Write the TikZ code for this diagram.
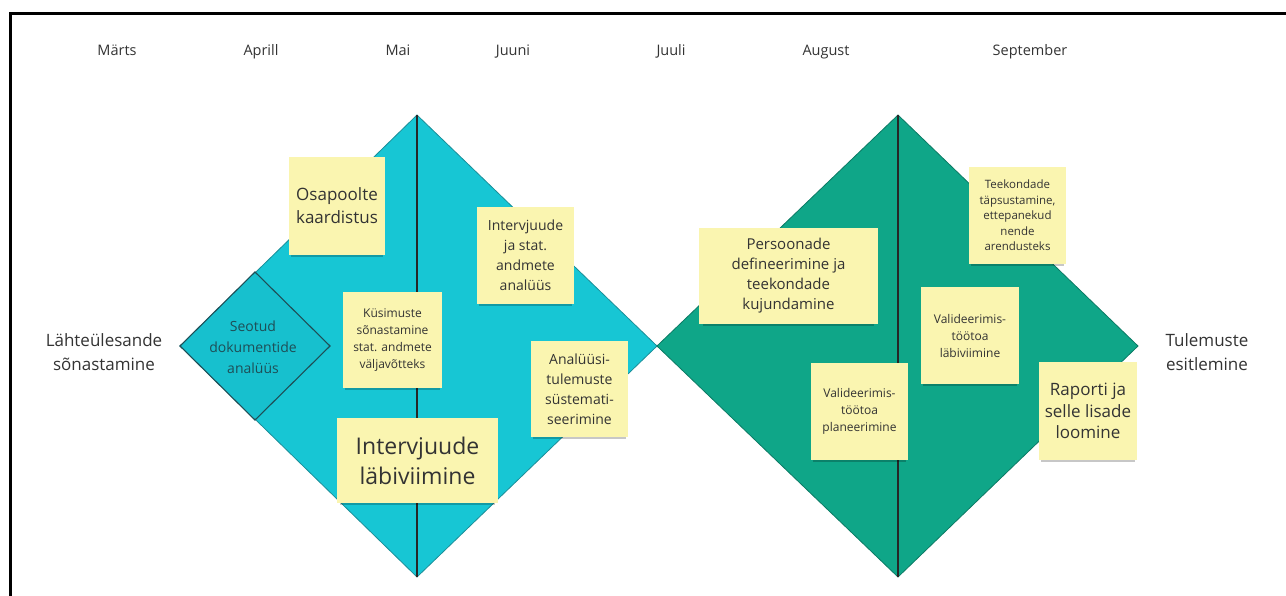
\documentclass[tikz,border=0pt]{standalone}
\usepackage{fontspec}
\setmainfont{Open Sans}
\usetikzlibrary{shadows}

\definecolor{diamondA}{HTML}{17C6D4}
\definecolor{diamondAsub}{HTML}{17C0CE}
\definecolor{edgeA}{HTML}{1B8E98}
\definecolor{diamondB}{HTML}{0FA688}
\definecolor{edgeB}{HTML}{0B7A64}
\definecolor{notefill}{HTML}{FAF5B0}
\definecolor{inktext}{HTML}{333333}
\definecolor{subtext}{HTML}{1E4E56}

\tikzset{
  month/.style={text=inktext, font=\fontsize{14.5}{17}\selectfont, inner sep=0pt, anchor=base},
  sidelabel/.style={text=inktext, align=center, font=\fontsize{17}{24}\selectfont, inner sep=0pt},
  divider/.style={draw=black!85, line width=1.6pt},
  note/.style={fill=notefill, align=center, text=inktext, inner sep=2pt,
    drop shadow={shadow xshift=0pt, shadow yshift=-4pt, shadow scale=0.96, opacity=0.22, fill=black}},
}

\begin{document}
\begin{tikzpicture}[x=1pt, y=-1pt]
\useasboundingbox (0,0) rectangle (1286,595);

% frame along the top and left edges
\draw[line width=3pt, line cap=rect] (10,595) -- (10,13) -- (1286,13);

% month labels (on a common baseline)
\node[month] (m1) at (117,55) {Märts};
\node[month] (m2) at (261,55) {Aprill};
\node[month] (m3) at (398,55) {Mai};
\node[month] (m4) at (513,55) {Juuni};
\node[month] (m5) at (671,55) {Juuli};
\node[month] (m6) at (826,55) {August};
\node[month] (m7) at (1030,55) {September};

% corner points of the two diamonds
\coordinate (Lt) at (417,115);
\coordinate (Lr) at (657,346);
\coordinate (Lb) at (417,577);
\coordinate (Ll) at (180,346);
\coordinate (Rt) at (898,115);
\coordinate (Rr) at (1138,346);
\coordinate (Rb) at (898,577);
\coordinate (St) at (255,272);
\coordinate (Sr) at (330,346);
\coordinate (Sb) at (255,420);

% first diamond (cyan)
\filldraw[fill=diamondA, draw=edgeA, line width=0.8pt, line join=miter] (Lt) -- (Lr) -- (Lb) -- (Ll) -- cycle;
\filldraw[fill=diamondAsub, draw=subtext, line width=1.1pt] (Ll) -- (St) -- (Sr) -- (Sb) -- cycle;
\draw[divider] (Lt) -- (Lb);

% second diamond (green)
\filldraw[fill=diamondB, draw=edgeB, line width=0.8pt, line join=miter] (Rt) -- (Rr) -- (Rb) -- (Lr) -- cycle;
\draw[divider] (Rt) -- (Rb);

% side labels
\node[sidelabel] (start) at (104,352) {Lähteülesande\\sõnastamine};
\node[sidelabel] (finish) at (1207,352) {Tulemuste\\esitlemine};

% label inside the small diamond
\node[text=subtext, align=center, font=\fontsize{14}{21}\selectfont, inner sep=0pt] (seotud) at (253,347)
  {Seotud\\dokumentide\\analüüs};

% sticky notes, first diamond
\node[note, minimum width=96pt, minimum height=98pt, font=\fontsize{17}{23}\selectfont] (osa) at (337,206)
  {Osapoolte\\kaardistus};
\node[note, minimum width=97pt, minimum height=97pt, font=\fontsize{14}{20}\selectfont] (intana) at (525.5,255.5)
  {Intervjuude\\ja stat.\\andmete\\analüüs};
\node[note, minimum width=99pt, minimum height=96pt, font=\fontsize{12}{17}\selectfont] (kys) at (392.5,340)
  {Küsimuste\\sõnastamine\\stat. andmete\\väljavõtteks};
\node[note, minimum width=97pt, minimum height=96pt, font=\fontsize{14}{20}\selectfont] (ana) at (579.5,389)
  {Analüüsi-\\tulemuste\\süstemati-\\seerimine};
\node[note, minimum width=161pt, minimum height=85pt, font=\fontsize{23}{30}\selectfont] (intlab) at (417.5,460.5)
  {Intervjuude\\läbiviimine};

% sticky notes, second diamond
\node[note, minimum width=179pt, minimum height=96pt, font=\fontsize{15}{20}\selectfont] (pers) at (788.5,276)
  {Persoonade\\defineerimine ja\\teekondade\\kujundamine};
\node[note, minimum width=97pt, minimum height=97pt, font=\fontsize{11.5}{15.5}\selectfont] (teek) at (1017.5,215.5)
  {Teekondade\\täpsustamine,\\ettepanekud\\nende\\arendusteks};
\node[note, minimum width=98pt, minimum height=97pt, font=\fontsize{12}{17}\selectfont] (vallab) at (970,335.5)
  {Valideerimis-\\töötoa\\läbiviimine};
\node[note, minimum width=97pt, minimum height=97pt, font=\fontsize{12}{17}\selectfont] (valpl) at (859.5,411.5)
  {Valideerimis-\\töötoa\\planeerimine};
\node[note, minimum width=98pt, minimum height=98pt, font=\fontsize{17}{21.5}\selectfont] (rap) at (1088,411)
  {Raporti ja\\selle lisade\\loomine};

\end{tikzpicture}
\end{document}
